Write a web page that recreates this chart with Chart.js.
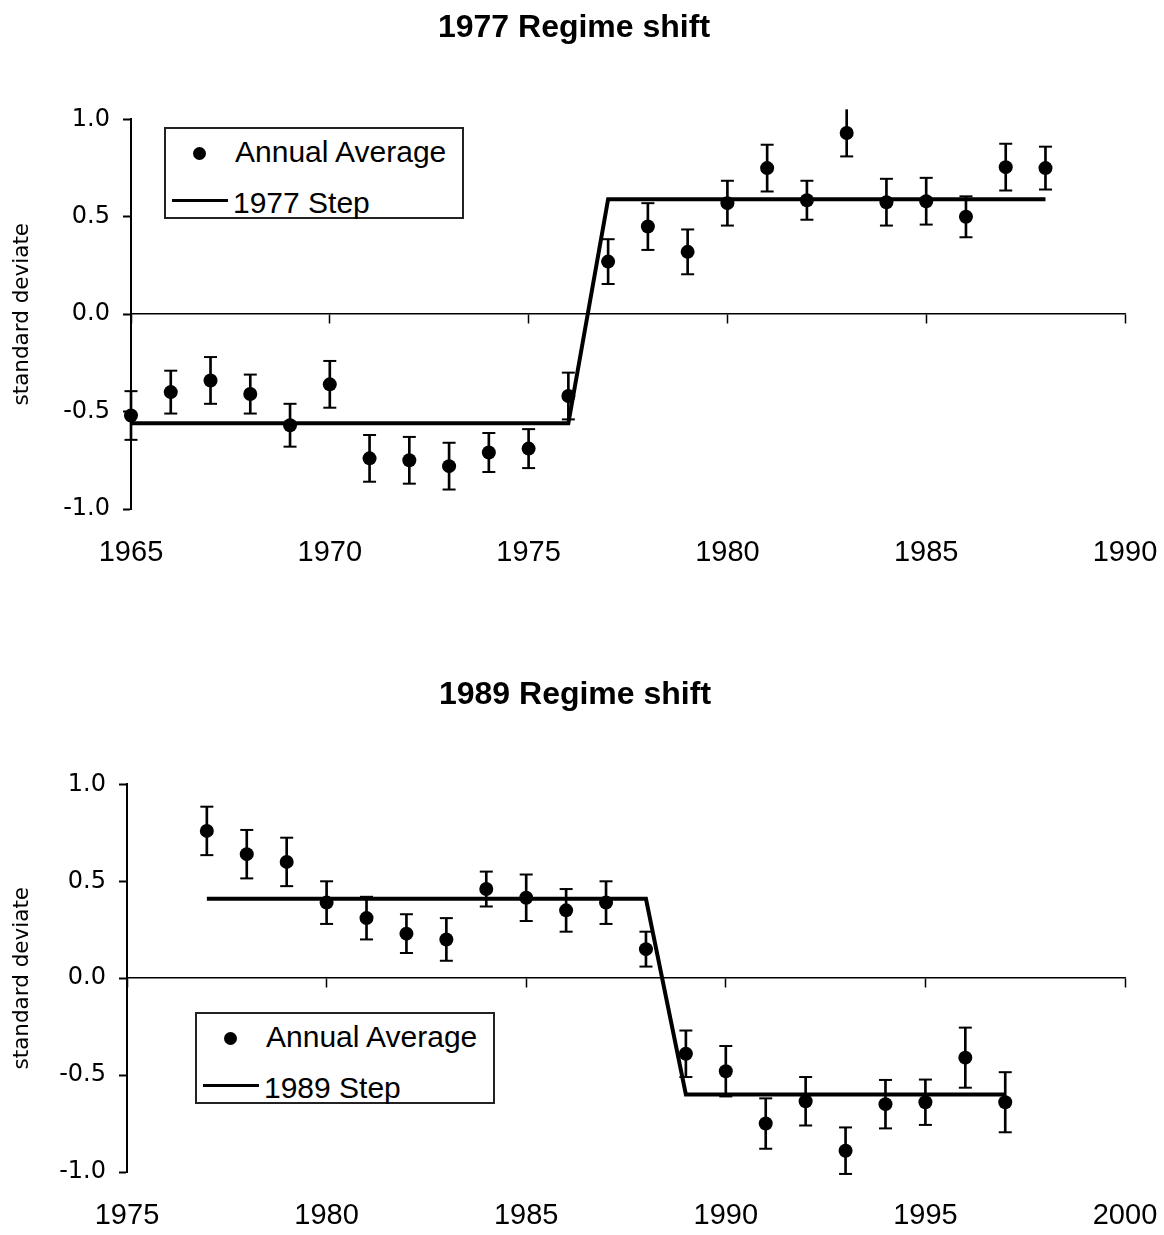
<!DOCTYPE html>
<html>
<head>
<meta charset="utf-8">
<script src="https://cdn.jsdelivr.net/npm/chart.js@4.4.1/dist/chart.umd.min.js"></script>
<style>
  html, body { margin: 0; padding: 0; background: #fff; }
  body { width: 1164px; height: 1235px; position: relative; overflow: hidden; }
  canvas { position: absolute; left: 0; display: block; }
  #c1 { top: 0; }
  #c2 { top: 667px; }
  .legend { position: absolute; width: 300px; height: 92px; border: 2px solid #222; box-sizing: border-box; background: #fff;
            font-family: 'Liberation Sans', Arial, sans-serif; font-size: 30px; line-height: 30px; color: #000; }
  .legend .dot { position: absolute; left: 26.5px; top: 17.5px; width: 13px; height: 13px; border-radius: 50%; background: #000; }
  .legend .ln { position: absolute; left: 6px; top: 69.5px; width: 56px; height: 3px; background: #000; }
  .legend .t1 { position: absolute; left: 69px; top: 8px; white-space: nowrap; }
  .legend .t2 { position: absolute; left: 67px; top: 59px; white-space: nowrap; }
</style>
</head>
<body>
<canvas id="c1" width="1164" height="600"></canvas>
<canvas id="c2" width="1164" height="568"></canvas>

<div class="legend" style="left:164px; top:127px;">
  <div class="dot"></div><div class="t1">Annual Average</div>
  <div class="ln"></div><div class="t2">1977 Step</div>
</div>
<div class="legend" style="left:195px; top:1012px;">
  <div class="dot"></div><div class="t1">Annual Average</div>
  <div class="ln"></div><div class="t2">1989 Step</div>
</div>

<script>
// ---------- Panel 1: 1977 regime shift ----------
const title1 = '1977 Regime shift';
const years1 = [1965,1966,1967,1968,1969,1970,1971,1972,1973,1974,1975,1976,
                1977,1978,1979,1980,1981,1982,1983,1984,1985,1986,1987,1988];
const avg1   = [-0.52,-0.40,-0.34,-0.41,-0.57,-0.36,-0.74,-0.75,-0.78,-0.71,-0.69,-0.42,
                 0.27, 0.45, 0.32, 0.57, 0.75, 0.585, 0.93, 0.575, 0.58, 0.50, 0.755, 0.75];
const err1   = [0.125,0.11,0.12,0.10,0.11,0.12,0.12,0.12,0.12,0.10,0.10,0.12,
                0.115,0.12,0.115,0.115,0.12,0.10,0.12,0.12,0.12,0.105,0.12,0.11];
const step1  = [-0.56,-0.56,-0.56,-0.56,-0.56,-0.56,-0.56,-0.56,-0.56,-0.56,-0.56,-0.56,
                 0.59, 0.59, 0.59, 0.59, 0.59, 0.59, 0.59, 0.59, 0.59, 0.59, 0.59, 0.59];
const xRange1 = [1965, 1990];

// ---------- Panel 2: 1989 regime shift ----------
const title2 = '1989 Regime shift';
const years2 = [1977,1978,1979,1980,1981,1982,1983,1984,1985,1986,1987,1988,
                1989,1990,1991,1992,1993,1994,1995,1996,1997];
const avg2   = [0.76,0.64,0.60,0.39,0.31,0.23,0.20,0.46,0.415,0.35,0.39,0.15,
                -0.39,-0.48,-0.75,-0.635,-0.89,-0.65,-0.64,-0.41,-0.64];
const err2   = [0.125,0.125,0.125,0.11,0.11,0.10,0.11,0.09,0.12,0.11,0.11,0.09,
                0.12,0.13,0.13,0.125,0.12,0.125,0.117,0.155,0.155];
const step2  = [0.41,0.41,0.41,0.41,0.41,0.41,0.41,0.41,0.41,0.41,0.41,0.41,
                -0.60,-0.60,-0.60,-0.60,-0.60,-0.60,-0.60,-0.60,-0.60];
const xRange2 = [1975, 2000];

// shared axis settings
const yRange = [-1, 1];
const yStep = 0.5;
const xStep = 5;
const yTitle = 'standard deviate';
const step1Label = '1977 Step', step2Label = '1989 Step', avgLabel = 'Annual Average';

const BLACK = '#000';
const SANS = "'Liberation Sans', Arial, Helvetica, sans-serif";
const WIDE = "'DejaVu Sans', Verdana, sans-serif";

function buildChart(canvasId, cfg) {
  const pts = cfg.years.map((x, i) => ({x, y: cfg.avg[i]}));
  const stems = cfg.years.map((x, i) => ({x, y: [cfg.avg[i] - cfg.err[i], cfg.avg[i] + cfg.err[i]]}));
  const capsLo = cfg.years.map((x, i) => ({x, y: cfg.avg[i] - cfg.err[i]}));
  const capsHi = cfg.years.map((x, i) => ({x, y: cfg.avg[i] + cfg.err[i]}));
  const stepPts = cfg.years.map((x, i) => ({x, y: cfg.step[i]}));

  return new Chart(document.getElementById(canvasId), {
    type: 'scatter',
    data: {
      datasets: [
        { type: 'line', label: cfg.stepLabel, data: stepPts, borderColor: BLACK, borderWidth: 4,
          pointRadius: 0, tension: 0, fill: false, order: 1 },
        { type: 'scatter', label: avgLabel, data: pts, pointRadius: 7, pointBackgroundColor: BLACK,
          pointBorderWidth: 0, pointStyle: 'circle', clip: false, order: 0 },
        { type: 'bar', label: 'err', data: stems, backgroundColor: BLACK, borderWidth: 0,
          barThickness: 2, grouped: false, clip: false, order: 2 },
        { type: 'scatter', label: 'errLo', data: capsLo, pointStyle: 'line', pointRadius: 6.5,
          pointBorderColor: BLACK, pointBorderWidth: 2, clip: false, order: 2 },
        { type: 'scatter', label: 'errHi', data: capsHi, pointStyle: 'line', pointRadius: 6.5,
          pointBorderColor: BLACK, pointBorderWidth: 2, clip: false, order: 2 }
      ]
    },
    options: {
      responsive: false,
      animation: false,
      events: [],
      layout: { padding: { left: cfg.padL, right: 39, top: 0, bottom: 0 } },
      plugins: {
        legend: { display: false },
        tooltip: { enabled: false },
        title: {
          display: true, text: cfg.title, color: BLACK,
          font: { family: SANS, size: 32, weight: 'bold', lineHeight: 1.2 },
          padding: { top: 9, bottom: cfg.titlePadB }
        }
      },
      scales: {
        x: {
          type: 'linear', position: { y: 0 }, min: cfg.xRange[0], max: cfg.xRange[1], offset: false,
          ticks: { display: false, stepSize: xStep },
          grid: { display: true, offset: false, drawOnChartArea: false, drawTicks: true, tickLength: 9,
                  tickColor: BLACK, tickWidth: 1.5 },
          border: { display: true, color: BLACK, width: 1.5 },
          afterFit: s => { s.height = 0; s.paddingLeft = 0; s.paddingRight = 0; }
        },
        x2: {
          type: 'linear', axis: 'x', position: 'bottom', min: cfg.xRange[0], max: cfg.xRange[1], offset: false,
          ticks: { stepSize: xStep, color: BLACK, padding: 27, maxRotation: 0, autoSkip: false,
                   font: { family: SANS, size: 29 }, callback: v => String(v) },
          grid: { display: false, offset: false, drawTicks: false },
          border: { display: false },
          afterFit: s => { s.height = cfg.x2H; s.paddingLeft = 0; s.paddingRight = 0; }
        },
        y: {
          type: 'linear', position: 'left', min: yRange[0], max: yRange[1], beginAtZero: false,
          ticks: { stepSize: yStep, color: BLACK, padding: 13,
                   font: { family: WIDE, size: 24 }, callback: v => Number(v).toFixed(1) },
          grid: { display: true, drawOnChartArea: false, drawTicks: true, tickLength: 8,
                  tickColor: BLACK, tickWidth: 2 },
          border: { display: true, color: BLACK, width: 2 },
          title: { display: true, text: yTitle, color: BLACK,
                   font: { family: WIDE, size: 21.5, lineHeight: 1.2 },
                   padding: { top: cfg.yTitlePadT, bottom: 0 } },
          afterFit: s => { s.width = cfg.yW; }
        }
      }
    }
  });
}

buildChart('c1', { title: title1, years: years1, avg: avg1, err: err1, step: step1, stepLabel: step1Label,
  xRange: xRange1, padL: 23, yW: 108, titlePadB: 72, x2H: 91, yTitlePadT: -13.4 });
buildChart('c2', { title: title2, years: years2, avg: avg2, err: err2, step: step2, stepLabel: step2Label,
  xRange: xRange2, padL: 25, yW: 102, titlePadB: 70, x2H: 63, yTitlePadT: -15.4 });
</script>
</body>
</html>
